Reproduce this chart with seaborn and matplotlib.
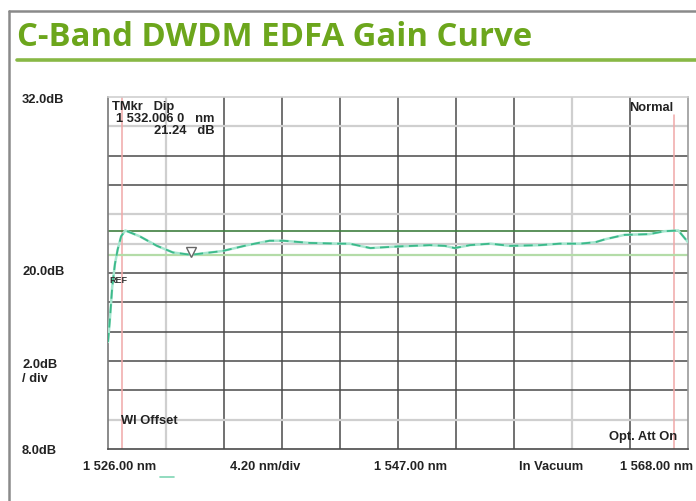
import numpy as np
import pandas as pd
import matplotlib
matplotlib.use("Agg")
import matplotlib.pyplot as plt
import seaborn as sns
from matplotlib.lines import Line2D

# ---- data ----
wavelength_nm = [1526.0, 1526.15, 1526.3, 1526.5, 1526.7, 1526.95, 1527.25, 1528.3, 1529.55,
                 1530.7, 1532.0, 1534.3, 1536.1, 1537.7, 1538.7, 1540.6, 1542.8, 1543.5,
                 1545.0, 1546.8, 1549.3, 1550.4, 1551.1, 1552.2, 1553.7, 1555.1, 1557.3,
                 1558.7, 1560.2, 1561.3, 1562.0, 1563.4, 1565.2, 1566.3, 1567.3, 1568.0]
gain_db = [15.3, 17.0, 19.0, 20.6, 21.6, 22.5, 22.9, 22.5, 21.85,
           21.4, 21.24, 21.5, 21.9, 22.2, 22.2, 22.05, 22.0, 22.0,
           21.7, 21.8, 21.9, 21.85, 21.7, 21.9, 22.0, 21.85, 21.9,
           22.0, 22.0, 22.1, 22.3, 22.6, 22.65, 22.85, 22.9, 22.1]

x_start, x_stop, x_div = 1526.0, 1568.0, 4.20
y_bottom, y_top, y_div = 8.0, 32.0, 2.0
marker_lines_nm = [1527.0, 1567.0]
max_line_db = 22.87
dip_nm, dip_db = 1532.006, 21.24

title = "C-Band DWDM EDFA Gain Curve"
y_labels = ["32.0dB", "20.0dB", "2.0dB\n/ div", "8.0dB"]
x_labels = ["1 526.00 nm", "4.20 nm/div", "1 547.00 nm", "In Vacuum", "1 568.00 nm"]

df = pd.DataFrame({"wavelength": wavelength_nm, "gain": gain_db})

sns.set_theme(style="white")
plt.rcParams["font.family"] = ["Liberation Sans", "DejaVu Sans"]

W, H = 696, 502
fig = plt.figure(figsize=(W / 100, H / 100), dpi=100)
fig.patch.set_facecolor("white")

def fx(px):
    return px / W

def fy(py):
    return 1 - py / H

ax = fig.add_axes([fx(108), fy(450), fx(688) - fx(108), fy(98) - fy(450)])
ax.set_xlim(x_start, x_stop)
ax.set_ylim(y_bottom, y_top)
ax.set_xticks([])
ax.set_yticks([])

dark = "#4a4a4a"
light = "#cfcfcf"
# grid lines
xg = [x_start + x_div * k for k in range(1, 10)]
light_x = {1, 8}
for k, xv in enumerate(xg, start=1):
    ax.axvline(xv, color=light if k in light_x else dark,
               lw=1.6 if k in light_x else 1.1, zorder=1)
yg = [y_bottom + y_div * k for k in range(1, 12)]
light_y = {1, 7, 8, 11}
for k, yv in enumerate(yg, start=1):
    ax.axhline(yv, color=light if k in light_y else dark,
               lw=1.6 if k in light_y else 1.1, zorder=1)

for side, col in [("top", light), ("left", "#777777"), ("bottom", dark), ("right", "#999999")]:
    ax.spines[side].set_color(col)
    ax.spines[side].set_linewidth(1.2)

# markers
ax.axvline(marker_lines_nm[0], color="#f0a8a8", lw=1.1, zorder=2)
ax.plot([marker_lines_nm[1]] * 2, [y_bottom, 30.8], color="#f0a8a8", lw=1.1, zorder=2)
ax.axhline(max_line_db, color="#3f7f3f", lw=1.2, zorder=2)
ax.axhline(dip_db, color="#b4dca8", lw=1.6, zorder=2)

# curve
sns.lineplot(data=df, x="wavelength", y="gain", ax=ax, color="#a6e6cf", lw=1.8,
             sort=False, zorder=3)
sns.lineplot(data=df, x="wavelength", y="gain", ax=ax, color="#3cb98a", lw=1.3,
             sort=False, zorder=4, linestyle=(0, (5, 3)))
ax.set_xlabel("")
ax.set_ylabel("")
ax.set_xticks([])
ax.set_yticks([])

# dip marker
ax.plot([dip_nm], [dip_db + 0.2], marker="v", ms=7, mfc="white", mec="#666666",
        mew=1.0, zorder=5, ls="none")

tk = dict(fontsize=9.3, fontweight="bold", color="#222222")
# in-plot annotations
fig.text(fx(112), fy(107), "TMkr   Dip", ha="left", va="center", **tk)
fig.text(fx(214), fy(119), "1 532.006 0   nm", ha="right", va="center", **tk)
fig.text(fx(214), fy(131), "21.24   dB", ha="right", va="center", **tk)
fig.text(fx(673), fy(108), "Normal", ha="right", va="center", **tk)
fig.text(fx(109), fy(281), "REF", ha="left", va="center", fontsize=6.5,
         fontweight="bold", color="#333333")
fig.text(fx(121), fy(421), "Wl Offset", ha="left", va="center", **tk)
fig.text(fx(677), fy(437), "Opt. Att On", ha="right", va="center", **tk)

# left labels
fig.text(fx(22), fy(100), y_labels[0], ha="left", va="center", **tk)
fig.text(fx(22), fy(272), y_labels[1], ha="left", va="center", **tk)
fig.text(fx(22), fy(372), y_labels[2], ha="left", va="center", linespacing=1.2, **tk)
fig.text(fx(22), fy(451), y_labels[3], ha="left", va="center", **tk)

# bottom labels
for cx, lab in zip([120, 265, 410, 551, 657], x_labels):
    fig.text(fx(cx), fy(467), lab, ha="center", va="center", **tk)
fig.add_artist(Line2D([fx(160), fx(174)], [fy(478), fy(478)], color="#7fd6b4", lw=1.2))

# outer frame
fig.add_artist(Line2D([fx(9), fx(9)], [fy(12), 0], color="#8a8a8a", lw=1.8))
fig.add_artist(Line2D([fx(9), 1.0], [fy(12), fy(12)], color="#8a8a8a", lw=1.8))

# title + rule
t = fig.text(fx(17), fy(38), title, ha="left", va="center", fontsize=23,
             fontweight="bold", color="#6ca61c", family=["Open Sans", "DejaVu Sans"])
fig.canvas.draw()
bb = t.get_window_extent()
t.set_fontsize(23 * 516 / bb.width)
fig.add_artist(Line2D([fx(17), 1.0], [fy(61), fy(61)], color="#88b845", lw=2.6))

fig.savefig("out.png", dpi=100, facecolor="white")
